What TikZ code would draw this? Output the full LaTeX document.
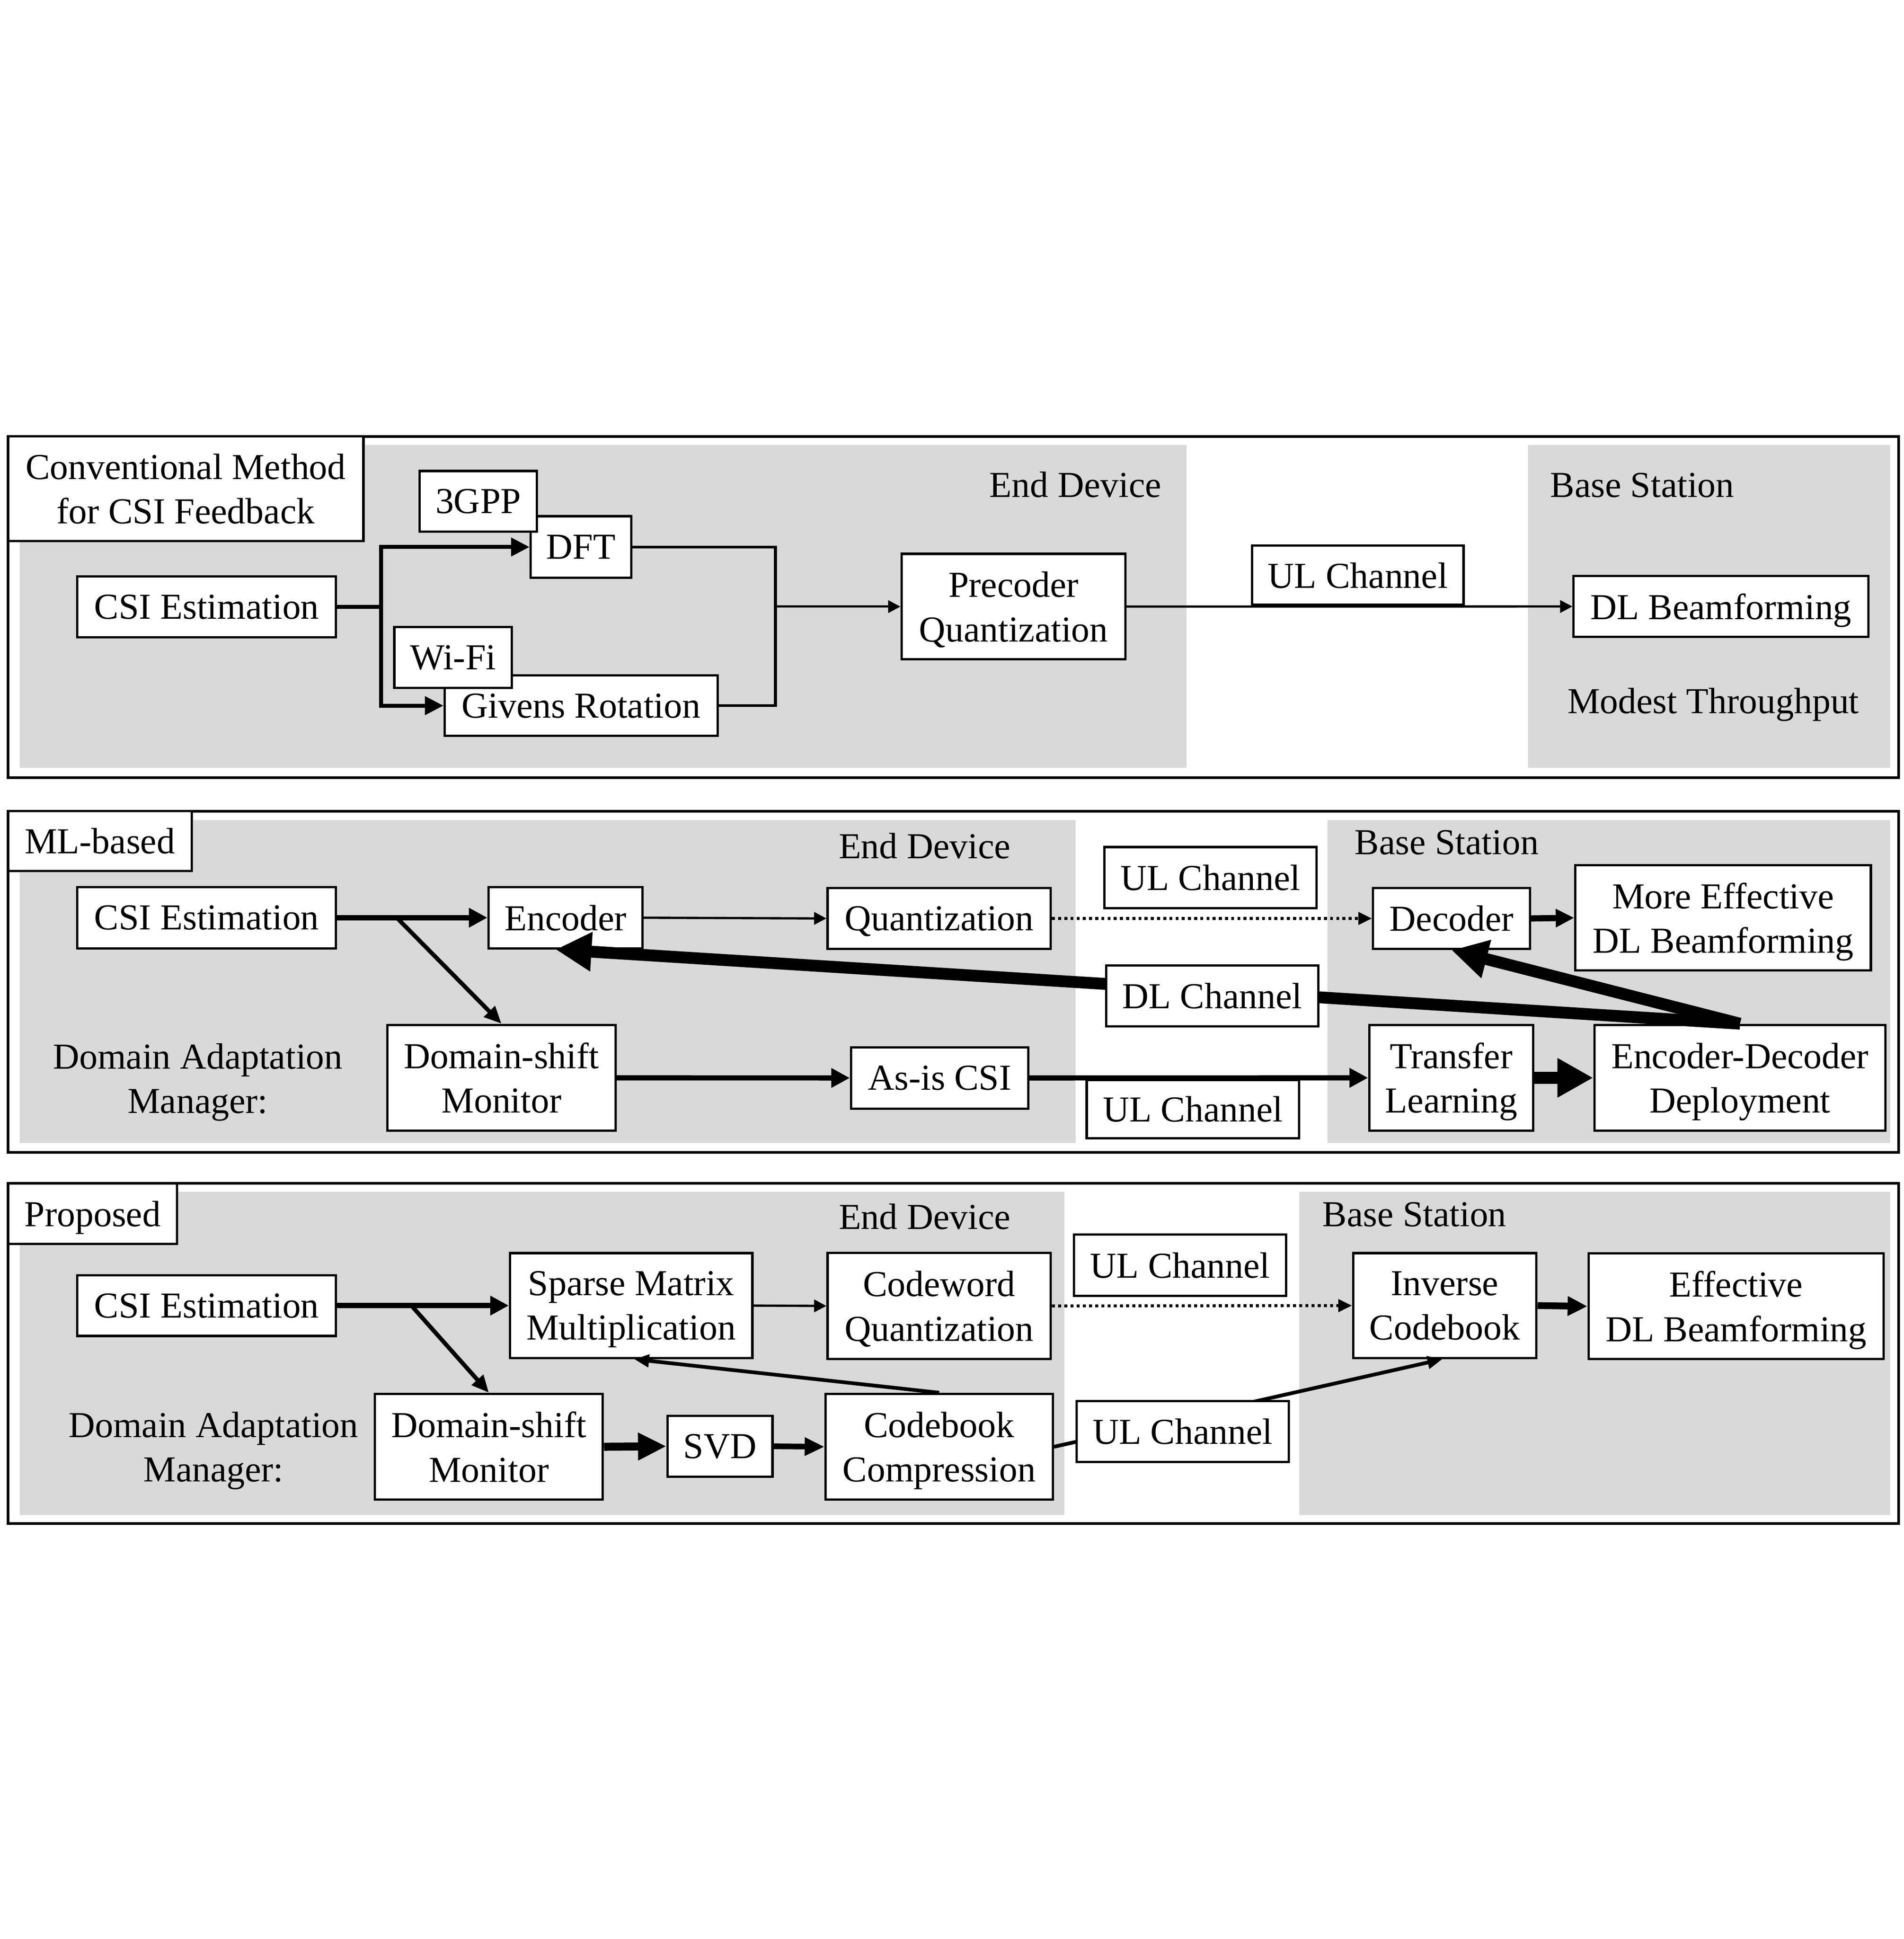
\documentclass[tikz,border=0pt]{standalone}
\usepackage{fontspec}
\setmainfont{Liberation Serif}
\usetikzlibrary{arrows.meta}
\definecolor{bggray}{RGB}{217,217,217}
\begin{document}
\begin{tikzpicture}[x=1pt, y=-1pt,
  font=\fontsize{29.6}{36}\selectfont,
  box/.style={draw, line width=1.85pt, fill=white, inner sep=0pt, align=center, text depth=0pt},
  wh/.style 2 args={minimum width=#1, minimum height=#2},
  panel/.style={draw, line width=2.2pt},
  lbl/.style={inner sep=0pt, anchor=base},
  arrhead/.style 2 args={-{Triangle[length=#1, width=#2]}},
  thinarr/.style={line width=1.85pt, arrhead={10pt}{10pt}},
  dotarr/.style={line width=2.4pt, dash pattern=on 2.4pt off 2.6pt, arrhead={11pt}{10pt}},
  brline/.style={line width=3.3pt},
  brarr/.style={line width=3.3pt, arrhead={15pt}{14.5pt}},
  joinline/.style={line width=2.4pt},
  medarr/.style={line width=4.2pt, arrhead={15pt}{15pt}},
  diagarr/.style={line width=3.4pt, arrhead={14pt}{12pt}},
  slimarr/.style={line width=3pt, arrhead={12pt}{10pt}},
  bigarr/.style={line width=9.6pt, arrhead={29pt}{30pt}}]
\useasboundingbox (0,0) rectangle (1540,1568.2);

% conventional
\fill[bggray] (16,360) rectangle (960,621);
\fill[bggray] (1236,360) rectangle (1529,621);
\draw[panel] (6.5,353) rectangle (1536,629);
\node[box, wh={287.5pt}{84.6pt}] (titleA) at (150.25,395.3) {Conventional Method\\for CSI Feedback};
\node[lbl] (edA) at (870,402) {End Device};
\node[lbl] (bsA) at (1328.5,402) {Base Station};
\node[lbl] (mtA) at (1386,577) {Modest Throughput};

\node[box, wh={209.3pt}{49.3pt}] (csiA) at (167.2,490.7) {CSI Estimation};
\node[box, wh={81.3pt}{49.8pt}] (dftA) at (470,442.4) {DFT};
\node[box, wh={95pt}{49pt}] (gppA) at (386.9,405.4) {3GPP};
\node[box, wh={221pt}{49pt}] (givA) at (470.2,570.7) {Givens Rotation};
\node[box, wh={95pt}{49.2pt}] (wifiA) at (366.5,531.8) {Wi-Fi};
\node[box, wh={181pt}{85.4pt}] (precA) at (819.9,490.6) {Precoder\\Quantization};
\node[box, wh={238.4pt}{49.4pt}] (bfA) at (1392.2,490.5) {DL Beamforming};

\coordinate (brA) at (308.4,490.7);
\coordinate (joinA) at (627.4,490.6);
\draw[brline] (csiA.east) -- (brA);
\draw[brarr] (brA) |- (dftA.west);
\draw[brarr] (brA) |- (givA.west);
\draw[joinline] (dftA.east) -| (joinA);
\draw[joinline] (givA.east) -| (joinA);
\draw[thinarr] (joinA) -- (precA.west);
\draw[thinarr] (precA.east) -- (bfA.west);
\node[box, wh={171pt}{47.8pt}] (ulA) at (1098.5,465.2) {UL Channel};

% ML-based
\fill[bggray] (16,663.2) rectangle (870,924.3);
\fill[bggray] (1073.8,663.2) rectangle (1529,924.3);
\draw[panel] (6.5,656) rectangle (1536,932);
\node[box, wh={148.5pt}{48.4pt}] (titleB) at (80.75,680.2) {ML-based};
\node[lbl] (edB) at (748,694.3) {End Device};
\node[lbl] (bsB) at (1170.4,691) {Base Station};
\node[inner sep=0pt, align=center] (damB) at (160,875.4) {Domain Adaptation\\Manager:};

\node[box, wh={209.3pt}{49.5pt}] (csiB) at (167.2,742.2) {CSI Estimation};
\node[box, wh={124.5pt}{49.5pt}] (encB) at (457.5,742.2) {Encoder};
\node[box, wh={180.6pt}{49.5pt}] (quantB) at (759.8,742.8) {Quantization};
\node[box, wh={171.7pt}{49.3pt}] (ulB) at (979.2,709.7) {UL Channel};
\node[box, wh={127pt}{49.5pt}] (decB) at (1174.3,742.8) {Decoder};
\node[box, wh={239pt}{85pt}] (bfB) at (1394,742.3) {More Effective\\DL Beamforming};
\node[box, wh={184.5pt}{85.7pt}] (monB) at (405.7,871.7) {Domain-shift\\Monitor};
\node[box, wh={143.5pt}{49.6pt}] (asisB) at (760.2,871.8) {As-is CSI};
\node[box, wh={171.7pt}{47pt}] (ulB2) at (965,897) {UL Channel};
\node[box, wh={132.7pt}{85.7pt}] (transB) at (1174,871.7) {Transfer\\Learning};
\node[box, wh={235.6pt}{85.7pt}] (edpB) at (1407.6,871.7) {Encoder-Decoder\\Deployment};

\coordinate (brB) at (321,742.2);
\draw[medarr] (csiB.east) -- (encB.west);
\draw[diagarr] (brB) -- (monB.north);
\draw[thinarr] (encB.east) -- (quantB.west);
\draw[dotarr] (quantB.east) -- (decB.west);
\draw[line width=5pt, arrhead={15pt}{14pt}] (decB.east) -- (bfB.west);
\draw[medarr] (monB.east) -- (asisB.west);
\draw[medarr] (asisB.east) -- (transB.west);
\draw[bigarr] (transB.east) -- (edpB.west);
\draw[bigarr] (edpB.north) -- ([xshift=-8pt]encB.south);
\draw[bigarr] (edpB.north) -- (decB.south);
\node[box, wh={171.8pt}{49.3pt}] (dlB) at (980.7,805.4) {DL Channel};

% proposed
\fill[bggray] (16,963.8) rectangle (861,1225.3);
\fill[bggray] (1051,963.8) rectangle (1529,1225.3);
\draw[panel] (6.5,957) rectangle (1536,1232.3);
\node[box, wh={136.8pt}{49pt}] (titleC) at (74.9,981.5) {Proposed};
\node[lbl] (edC) at (748,994) {End Device};
\node[lbl] (bsC) at (1144.3,992.1) {Base Station};
\node[inner sep=0pt, align=center] (damC) at (172.7,1173.3) {Domain Adaptation\\Manager:};

\node[box, wh={209.3pt}{49.1pt}] (csiC) at (167.2,1055.9) {CSI Estimation};
\node[box, wh={196.1pt}{84.9pt}] (smmC) at (510.6,1055.9) {Sparse Matrix\\Multiplication};
\node[box, wh={180.6pt}{85.6pt}] (cwqC) at (759.8,1056.2) {Codeword\\Quantization};
\node[box, wh={171.7pt}{49.4pt}] (ulC) at (954.7,1023.3) {UL Channel};
\node[box, wh={148.4pt}{84.9pt}] (invC) at (1168.8,1055.9) {Inverse\\Codebook};
\node[box, wh={238.8pt}{85.5pt}] (bfC) at (1404.5,1056.5) {Effective\\DL Beamforming};
\node[box, wh={184.4pt}{85.6pt}] (monC) at (395.5,1170.1) {Domain-shift\\Monitor};
\node[box, wh={84.9pt}{49.4pt}] (svdC) at (582.5,1169.7) {SVD};
\node[box, wh={183.8pt}{85.6pt}] (cbcC) at (759.8,1170.1) {Codebook\\Compression};

\coordinate (brC) at (332.8,1055.9);
\draw[medarr] (csiC.east) -- (smmC.west);
\draw[diagarr] (brC) -- (monC.north);
\draw[thinarr] (smmC.east) -- (cwqC.west);
\draw[dotarr] (cwqC.east) -- (invC.west);
\draw[line width=5.5pt, arrhead={16pt}{15pt}] (invC.east) -- (bfC.west);
\draw[line width=6.5pt, arrhead={23pt}{21pt}] (monC.east) -- (svdC.west);
\draw[line width=4.6pt, arrhead={16pt}{14pt}] (svdC.east) -- (cbcC.west);
\draw[slimarr] (cbcC.north) -- ([xshift=2.5pt]smmC.south);
\draw[slimarr] (cbcC.east) -- ([xshift=-2pt]invC.south);
\node[box, wh={171.7pt}{49.3pt}] (ulC2) at (956.8,1157.8) {UL Channel};
\end{tikzpicture}
\end{document}
